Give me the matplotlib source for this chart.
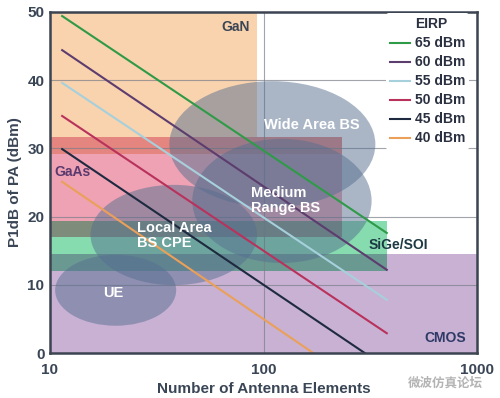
# EIRP vs number of antenna elements, with PA technology regions.

import matplotlib
matplotlib.use('Agg')
import matplotlib.pyplot as plt
from matplotlib.patches import Rectangle, Ellipse
from matplotlib.lines import Line2D
from matplotlib.colors import to_rgb

# technology regions: (elements range, P1dB range)
techNames = ['GaN', 'GaAs', 'SiGe/SOI', 'CMOS']
techX = [(10, 93), (10, 233), (10, 378), (10, 1000)]
techY = [(31.7, 50), (17, 31.7), (12, 19.3), (0, 14.5)]
gaasTopBand = (29.2, 31.7)

# coverage ellipses: centre (elements, dBm), width in decades, height in dB
covNames = ['Wide Area BS', 'Medium\nRange BS', 'Local Area\nBS CPE', 'UE']
covN = [110, 122, 38, 20.3]
covP = [30.6, 22.3, 17.3, 9.2]
covWidthDec = [0.965, 0.84, 0.78, 0.567]
covHeightDb = [18.5, 18.2, 14.7, 10.4]

# EIRP lines, start and end points
eirpLabels = ['65 dBm', '60 dBm', '55 dBm', '50 dBm', '45 dBm', '40 dBm']
lineN0 = [11.4, 11.4, 11.4, 11.4, 11.4, 11.4]
lineP0 = [49.4, 44.4, 39.6, 34.75, 29.9, 25.1]
lineN1 = [378, 378, 378, 378, 298, 171]
lineP1 = [17.6, 12.2, 7.8, 2.9, 0, 0]

lineColors = ['#2f9a48', '#5c3d6e', '#a6d0dc', '#b8325c', '#1e2a40', '#eaa058']
techColors = {'GaN': '#f9d2ae', 'GaAs': '#eea2b4', 'SiGe/SOI': '#86dcae',
              'CMOS': '#c9b1d4'}
bandColor = '#e58580'
ellColor = '#566f8f'
txtDark = '#3a4656'

plt.rcParams['font.family'] = ['Liberation Sans', 'DejaVu Sans']
plt.rcParams['font.weight'] = 'bold'
plt.rcParams['axes.labelweight'] = 'bold'


def multiply(c1, c2):
    a = to_rgb(c1)
    b = to_rgb(c2)
    return tuple(i * j for i, j in zip(a, b))


def rect(ax, xr, yr, color, z=0.2):
    ax.add_patch(Rectangle((xr[0], yr[0]), xr[1] - xr[0], yr[1] - yr[0],
                           facecolor=color, edgecolor='none', zorder=z))


fig = plt.figure(figsize=(5, 3.98), dpi=100)
ax = fig.add_axes([0.1, 0.113, 0.854, 0.857])
ax.set_xscale('log')
ax.set_xlim(10, 1000)
ax.set_ylim(0, 50)

# flat regions
for name in ['CMOS', 'GaN', 'GaAs', 'SiGe/SOI']:
    i = techNames.index(name)
    rect(ax, techX[i], techY[i], techColors[name])
iA = techNames.index('GaAs')
rect(ax, techX[iA], gaasTopBand, bandColor)
# SiGe overlaps look like a multiply blend in the original
iS = techNames.index('SiGe/SOI')
iC = techNames.index('CMOS')
rect(ax, techX[iA], (techY[iA][0], techY[iS][1]),
     multiply(techColors['SiGe/SOI'], techColors['GaAs']))
rect(ax, techX[iS], (techY[iS][0], techY[iC][1]),
     multiply(techColors['SiGe/SOI'], techColors['CMOS']))

# coverage ellipses, drawn in axes coords so they stay elliptic on log x
toAx = ax.transScale + ax.transLimits
for i in range(len(covNames)):
    cx, cy = toAx.transform((covN[i], covP[i]))
    xl = toAx.transform((covN[i] * 10 ** (-covWidthDec[i] / 2), covP[i]))[0]
    xr = toAx.transform((covN[i] * 10 ** (covWidthDec[i] / 2), covP[i]))[0]
    yb = toAx.transform((covN[i], covP[i] - covHeightDb[i] / 2))[1]
    yt = toAx.transform((covN[i], covP[i] + covHeightDb[i] / 2))[1]
    ax.add_patch(Ellipse((cx, cy), xr - xl, yt - yb, transform=ax.transAxes,
                         facecolor=ellColor, edgecolor='none', alpha=0.5,
                         zorder=1))

# EIRP lines
handles = [Line2D([], [], color='none', label='EIRP')]
for i in range(len(eirpLabels)):
    ln, = ax.plot([lineN0[i], lineN1[i]], [lineP0[i], lineP1[i]],
                  color=lineColors[i], lw=1.5, zorder=3, label=eirpLabels[i])
    handles.append(ln)

# region labels
ax.text(74, 47.8, 'GaN', color=txtDark, fontsize=10, ha='center',
        va='center', zorder=4)
ax.text(10.5, 26.5, 'GaAs', color='#5a3a6e', fontsize=10, ha='left',
        va='center', zorder=4)
ax.text(427, 15.8, 'SiGe/SOI', color='#1c3a44', fontsize=10, ha='center',
        va='center', zorder=4)
ax.text(708, 2.2, 'CMOS', color='#2e3a66', fontsize=10, ha='center',
        va='center', zorder=4)
ax.text(168, 33.4, covNames[0], color='white', fontsize=10.5, ha='center',
        va='center', zorder=4)
ax.text(87, 22.4, covNames[1], color='white', fontsize=10.5, ha='left',
        va='center', linespacing=1.1, zorder=4)
ax.text(25.5, 17.2, covNames[2], color='white', fontsize=10.5, ha='left',
        va='center', linespacing=1.1, zorder=4)
ax.text(19.7, 8.8, covNames[3], color='white', fontsize=10.5, ha='center',
        va='center', zorder=4)

# axes styling
ax.set_xticks([10, 100, 1000])
ax.set_xticklabels(['10', '100', '1000'])
ax.minorticks_off()
ax.set_yticks([0, 10, 20, 30, 40, 50])
ax.tick_params(length=0, labelsize=11, labelcolor=txtDark)
ax.tick_params(axis='x', pad=7)
ax.tick_params(axis='y', pad=4)
ax.grid(True, color='#7a7f88', lw=0.8, alpha=0.7)
ax.set_axisbelow(True)
for s in ax.spines.values():
    s.set_color('#3c4452')
    s.set_linewidth(1.8)
    s.set_zorder(5)
ax.set_xlabel('Number of Antenna Elements', fontsize=11, color=txtDark,
              labelpad=4)
ax.set_ylabel('P1dB of PA (dBm)', fontsize=11, color=txtDark, labelpad=4)

leg = ax.legend(handles=handles, loc='upper right',
                bbox_to_anchor=(0.985, 1.0), borderaxespad=0.1,
                frameon=True, facecolor='white', edgecolor='none',
                framealpha=1, fontsize=10, handlelength=1.45,
                handletextpad=0.3, labelspacing=0.36, borderpad=0.3)
leg.set_zorder(6)
for t in leg.get_texts():
    t.set_color('#2a3040')

# watermark
fig.text(0.89, 0.038, '微波仿真论坛', fontsize=9, color='#b4b4b4',
         ha='center', va='center',
         family=['Noto Sans CJK SC', 'DejaVu Sans'])

fig.savefig('out.png', dpi=100)
